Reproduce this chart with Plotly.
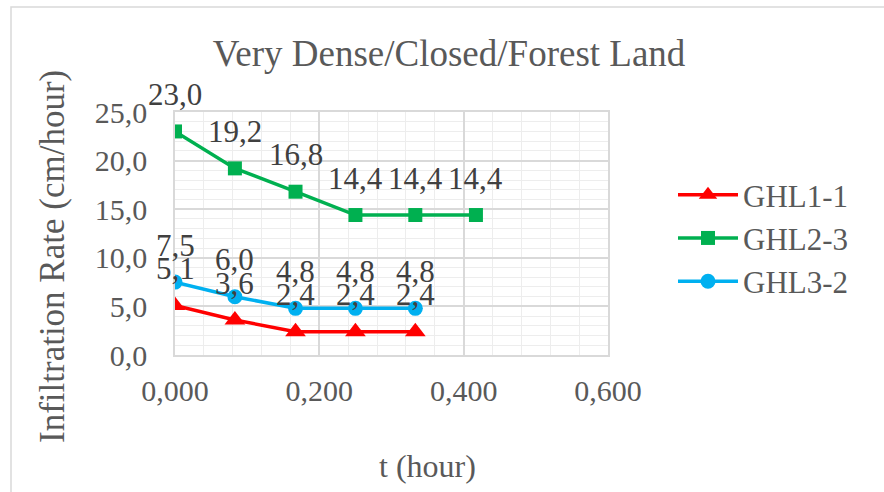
import plotly.graph_objects as go

# Time since start of test (hours)
t_hours = [0.000, 0.083, 0.167, 0.250, 0.333, 0.417]

# Infiltration rate (cm/hour) per test location
ghl1_1 = [5.1, 3.6, 2.4, 2.4, 2.4]
ghl2_3 = [23.0, 19.2, 16.8, 14.4, 14.4, 14.4]
ghl3_2 = [7.5, 6.0, 4.8, 4.8, 4.8]

series = [
    ("GHL1-1", ghl1_1, "#FF0000", "triangle-up", 18),
    ("GHL2-3", ghl2_3, "#00B050", "square", 14),
    ("GHL3-2", ghl3_2, "#00B0F0", "circle", 15),
]

FONT = "Liberation Serif, Times New Roman, serif"
GREY = "#595959"

# pixel box of the plotting area
px_l, px_r, px_t, px_b = 175, 608, 112, 355
W, H = 884, 492


def to_paper_x(p):
    return (p - px_l) / (px_r - px_l)


def to_paper_y(p):
    return (px_b - p) / (px_b - px_t)


fig = go.Figure()
annotations = []
for name, vals, color, symbol, msize in series:
    xs = t_hours[:len(vals)]
    fig.add_trace(go.Scatter(
        x=xs, y=vals, name=name, mode="lines+markers",
        line=dict(color=color, width=3.5),
        marker=dict(symbol=symbol, size=msize, color=color),
    ))
    for x, v in zip(xs, vals):
        annotations.append(dict(
            x=x, y=v, xref="x", yref="y", text=f"{v:.1f}".replace(".", ","),
            showarrow=False, yshift=37,
            font=dict(family=FONT, size=31, color="#404040"),
        ))

# axis titles
annotations.append(dict(
    text="Infiltration Rate (cm/hour)", textangle=-90, showarrow=False,
    xref="paper", yref="paper", x=to_paper_x(52), y=to_paper_y(257),
    xanchor="center", yanchor="middle",
    font=dict(family=FONT, size=35, color=GREY),
))
annotations.append(dict(
    text="t (hour)", showarrow=False,
    xref="paper", yref="paper", x=to_paper_x(427), y=to_paper_y(466),
    xanchor="center", yanchor="middle",
    font=dict(family=FONT, size=32, color=GREY),
))

fig.update_layout(
    width=W, height=H,
    margin=dict(l=px_l, r=W - px_r, t=px_t, b=H - px_b),
    paper_bgcolor="white", plot_bgcolor="white",
    separators=",.",
    font=dict(family=FONT, size=30, color=GREY),
    title=dict(text="Very Dense/Closed/Forest Land", x=449 / W, xanchor="center",
               y=1 - 53 / H, yanchor="middle", yref="container",
               font=dict(family=FONT, size=37, color=GREY)),
    legend=dict(x=to_paper_x(673), xanchor="left", y=to_paper_y(168), yanchor="top",
                font=dict(family=FONT, size=31, color=GREY), bgcolor="rgba(0,0,0,0)",
                itemwidth=60, tracegroupgap=0),
    annotations=annotations,
    shapes=[dict(type="rect", xref="paper", yref="paper",
                 x0=to_paper_x(11), x1=to_paper_x(900),
                 y0=to_paper_y(510), y1=to_paper_y(7),
                 line=dict(color="#D9D9D9", width=1.5), layer="below")],
)

fig.update_xaxes(
    range=[0, 0.6], dtick=0.2, tick0=0, tickformat=".3f",
    showgrid=True, gridcolor="#D9D9D9", gridwidth=1.5,
    minor=dict(dtick=0.04, showgrid=True, gridcolor="#EDEDED", gridwidth=1),
    showline=True, linecolor="#D9D9D9", linewidth=1.5, mirror=True,
    zeroline=False, ticks="", ticklabelstandoff=8,
    tickfont=dict(family=FONT, size=30, color=GREY),
)
fig.update_yaxes(
    range=[0, 25], dtick=5, tick0=0, tickformat=".1f",
    showgrid=True, gridcolor="#D9D9D9", gridwidth=1.5,
    minor=dict(dtick=1, showgrid=True, gridcolor="#EDEDED", gridwidth=1),
    showline=True, linecolor="#D9D9D9", linewidth=1.5, mirror=True,
    zeroline=False, ticks="", ticklabelstandoff=20,
    tickfont=dict(family=FONT, size=30, color=GREY),
)

fig.write_html("out.html")
